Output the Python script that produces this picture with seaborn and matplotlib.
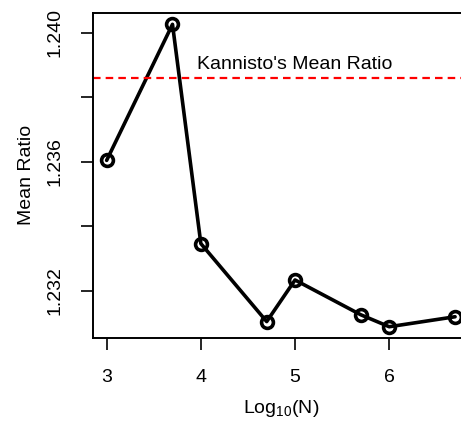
import numpy as np
import pandas as pd
import matplotlib
matplotlib.use("Agg")
import matplotlib.pyplot as plt
import seaborn as sns

# Sample sizes (log10 N) and the mean ratio observed at each
log_n = [3.0, 3.699, 4.0, 4.699, 5.0, 5.699, 6.0, 6.699]
mean_ratio = [1.23604, 1.24026, 1.23346, 1.23104, 1.23233, 1.23125, 1.23088, 1.23119]

# Reference value
kannisto_ratio = 1.2386
kannisto_label = "Kannisto's Mean Ratio"

x_ticks = [3, 4, 5, 6]
y_ticks = [1.232, 1.234, 1.236, 1.238, 1.240]
y_tick_labels = ["1.232", "", "1.236", "", "1.240"]

sns.set_style("ticks")
plt.rcParams["font.family"] = ["Liberation Sans", "DejaVu Sans"]
plt.rcParams["mathtext.fontset"] = "custom"
plt.rcParams["mathtext.rm"] = "Liberation Sans"
plt.rcParams["text.color"] = "black"
plt.rcParams["axes.labelcolor"] = "black"
plt.rcParams["xtick.color"] = "black"
plt.rcParams["ytick.color"] = "black"

df = pd.DataFrame({"logN": log_n, "ratio": mean_ratio})

fig = plt.figure(figsize=(4.61, 4.21), dpi=100)
ax = fig.add_axes([0.2011, 0.1971, 0.8163, 0.7727])

sns.lineplot(data=df, x="logN", y="ratio", ax=ax, color="black", linewidth=2.6,
             marker="o", markersize=8.5, markerfacecolor="none",
             markeredgecolor="black", markeredgewidth=2.6, clip_on=False)

ax.axhline(kannisto_ratio, color="#ff0000", linestyle=(0, (3.4, 2.3)), linewidth=1.6)
ax.text(5.0, 1.239, kannisto_label, ha="center", va="center", fontsize=14,
        color="black")

ax.set_xlim(2.852, 6.847)
ax.set_ylim(1.23053, 1.24062)
ax.set_xticks(x_ticks)
ax.set_xticklabels([str(t) for t in x_ticks])
ax.set_yticks(y_ticks)
ax.set_yticklabels(y_tick_labels, rotation=90, va="center")

ax.tick_params(axis="both", direction="out", length=8.6, width=1.2,
               labelsize=14, color="black", labelcolor="black")
ax.tick_params(axis="x", pad=14)
ax.tick_params(axis="y", pad=12.5)
for s in ax.spines.values():
    s.set_linewidth(1.4)
    s.set_color("black")

ax.set_xlabel("Log$_{\\mathregular{10}}$(N)", fontsize=14, labelpad=8)
ax.set_ylabel("Mean Ratio", fontsize=14, labelpad=8)

fig.savefig("out.png", dpi=100)
